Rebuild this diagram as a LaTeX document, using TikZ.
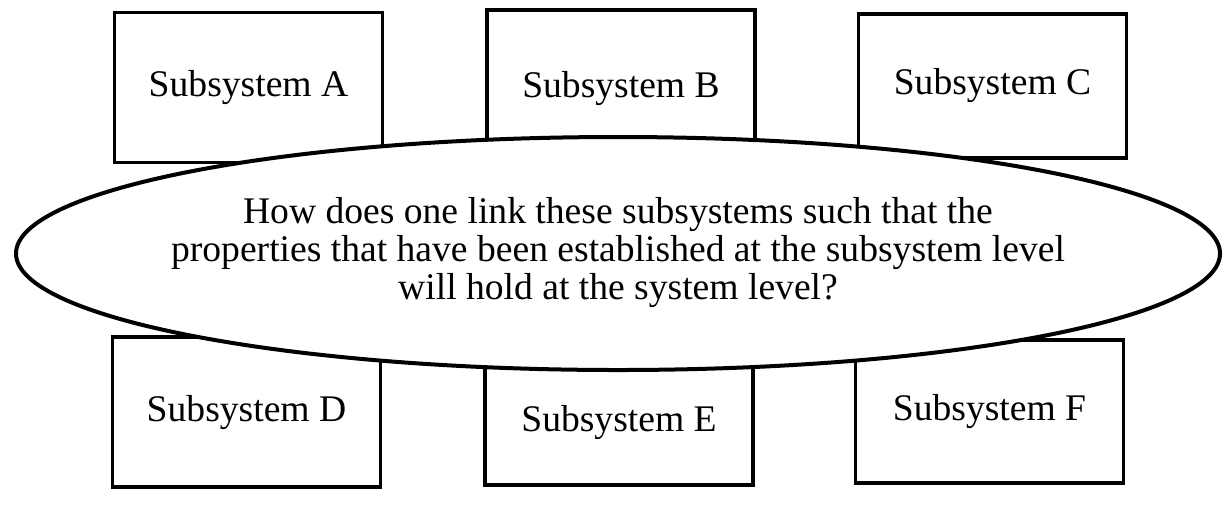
\documentclass[tikz,border=0pt]{standalone}
\usepackage{fontspec}
\setmainfont{Liberation Serif}
\usepackage{tikz}
\usetikzlibrary{shapes.geometric}

\begin{document}
\begin{tikzpicture}[x=0.5pt, y=-0.5pt,
    subbox/.style={draw, line width=1.75pt, fill=white, minimum width=134pt,
      minimum height=75pt, inner sep=0pt},
    bigoval/.style={ellipse, draw, line width=2pt, fill=white, inner sep=0pt,
      minimum width=602pt, minimum height=116.5pt}]

  \fontsize{18.8}{19}\selectfont

  \useasboundingbox (0,0) rectangle (1229,505);

  %% top row
  \node[subbox] (subA) at (248.5, 87.5) {Subsystem A};
  \node[subbox] (subB) at (621, 85) {\raisebox{-2pt}[\height][\depth]{Subsystem B}};
  \node[subbox, minimum height=72pt] (subC) at (992.5, 86) {Subsystem C};

  %% bottom row
  \node[subbox] (subD) at (246.5, 412) {Subsystem D};
  \node[subbox, minimum height=63pt] (subE) at (619, 422) {Subsystem E};
  \node[subbox, minimum height=71.5pt] (subF) at (989.5, 411.5) {Subsystem F};

  %% the question, drawn over the boxes
  \node[bigoval] (link) at (618, 253.5) {};
  \node[align=center, inner sep=0pt] (question) at ([yshift=0.5pt]link.center)
    {How does one link these subsystems such that the\\
     properties that have been established at the subsystem level\\
     will hold at the system level?};
\end{tikzpicture}
\end{document}
